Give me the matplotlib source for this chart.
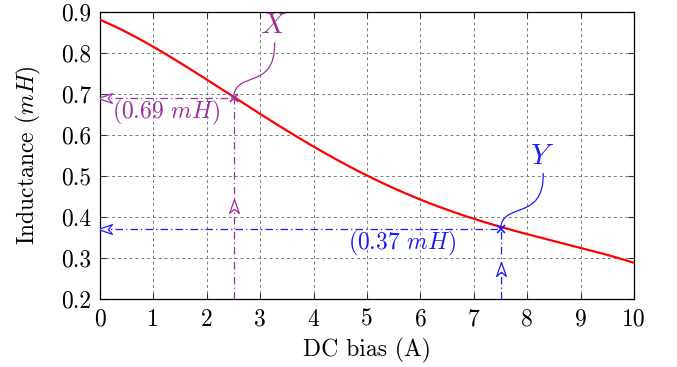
import numpy as np
import matplotlib
matplotlib.use("Agg")
import matplotlib.pyplot as plt
from matplotlib.path import Path
from matplotlib.patches import PathPatch
from matplotlib.markers import MarkerStyle
from matplotlib.transforms import Affine2D

plt.rcParams['font.family'] = 'serif'
plt.rcParams['font.serif'] = ['cmr10']
plt.rcParams['mathtext.fontset'] = 'cm'
plt.rcParams['axes.formatter.use_mathtext'] = True

# Data
dc_bias = [0, 1, 2, 2.5, 3, 4, 5, 6, 7, 7.5, 8, 9, 10]
inductance = [0.88, 0.815, 0.742, 0.69, 0.65, 0.567, 0.501, 0.446, 0.40, 0.375, 0.356, 0.322, 0.29]
x_ticks = [0, 1, 2, 3, 4, 5, 6, 7, 8, 9, 10]
y_ticks = [0.2, 0.3, 0.4, 0.5, 0.6, 0.7, 0.8, 0.9]
pt_x = [2.5, 7.5]
pt_y = [0.69, 0.37]
pt_names = ['X', 'Y']
pt_values = ['(0.69 $mH$)', '(0.37 $mH$)']
purple = '#9b2f9b'
blue = '#1a1aff'

fs = 17
fig = plt.figure(figsize=(6.77, 3.67), dpi=100)
ax = fig.add_axes([100/677, 1-299/367, 534/677, 287/367])
ax.set_xlim(0, 10)
ax.set_ylim(0.2, 0.9)
ax.set_xticks(x_ticks)
ax.set_yticks(y_ticks)
ax.set_xticklabels([str(t) for t in x_ticks])
ax.set_yticklabels(['%.1f' % t for t in y_ticks])
ax.tick_params(direction='in', top=True, right=True, labelsize=fs, length=4,
               color='#333333')
ax.tick_params(axis='x', pad=7)
ax.tick_params(axis='y', pad=6)
ax.grid(True, ls=(0, (3, 3)), color='#7a7a7a', lw=0.7)
for s in ax.spines.values():
    s.set_linewidth(0.9)

x_s = np.linspace(0, 10, 200)
coef = np.polyfit(dc_bias, inductance, 4)
ax.plot(x_s, np.polyval(coef, x_s), color='red', lw=1.6, zorder=3)

ax.set_xlabel('DC bias (A)', fontsize=fs, labelpad=5)
ax.set_ylabel('Inductance ($mH$)', fontsize=fs, labelpad=13)

# open notched arrowhead marker, pointing up
head = Path([(0, 0.5), (-0.35, -0.5), (0, -0.2), (0.35, -0.5), (0, 0.5)],
            [Path.MOVETO, Path.LINETO, Path.LINETO, Path.LINETO, Path.CLOSEPOLY])
up_head = MarkerStyle(head)
left_head = MarkerStyle(head, transform=Affine2D().rotate_deg(90))

colors = [purple, blue]
label_pos = [(1.24, 0.655), (5.66, 0.335)]
name_pos = [(3.25, 0.866), (8.28, 0.547)]
mid_arrow = [0.426, 0.272]
for i in range(2):
    c = colors[i]
    px, py = pt_x[i], pt_y[i]
    ax.plot([0, px], [py, py], ls=(0, (6, 2.5, 1, 2.5)), color=c, lw=0.9, zorder=4)
    ax.plot([px, px], [0.2, py], ls=(0, (6, 2.5, 1, 2.5)), color=c, lw=0.9, zorder=4)
    ax.plot([px], [py], marker='x', color=c, ms=6, mew=1.2, zorder=5)
    ax.plot([0.095], [py], marker=left_head, ms=10, mfc='white', mec=c, mew=0.9, zorder=6)
    ax.plot([px], [mid_arrow[i]], marker=up_head, ms=10, mfc='white', mec=c, mew=0.9, zorder=6)
    ax.text(label_pos[i][0], label_pos[i][1], pt_values[i], color=c, fontsize=fs,
            ha='center', va='center')
    nx, ny = name_pos[i]
    ax.text(nx, ny, '$' + pt_names[i] + '$', color=c, fontsize=21, ha='center', va='center')
    # curved connector (S-shaped cubic bezier)
    sx, sy = nx + 0.02, ny - 0.04
    verts = [(sx, sy), (sx + 0.02, sy - 0.12), (px + 0.02, py + 0.07), (px, py)]
    path = Path(verts, [Path.MOVETO, Path.CURVE4, Path.CURVE4, Path.CURVE4])
    ax.add_patch(PathPatch(path, fc='none', ec=c, lw=0.9, zorder=5))

fig.savefig('out.png', dpi=100)
